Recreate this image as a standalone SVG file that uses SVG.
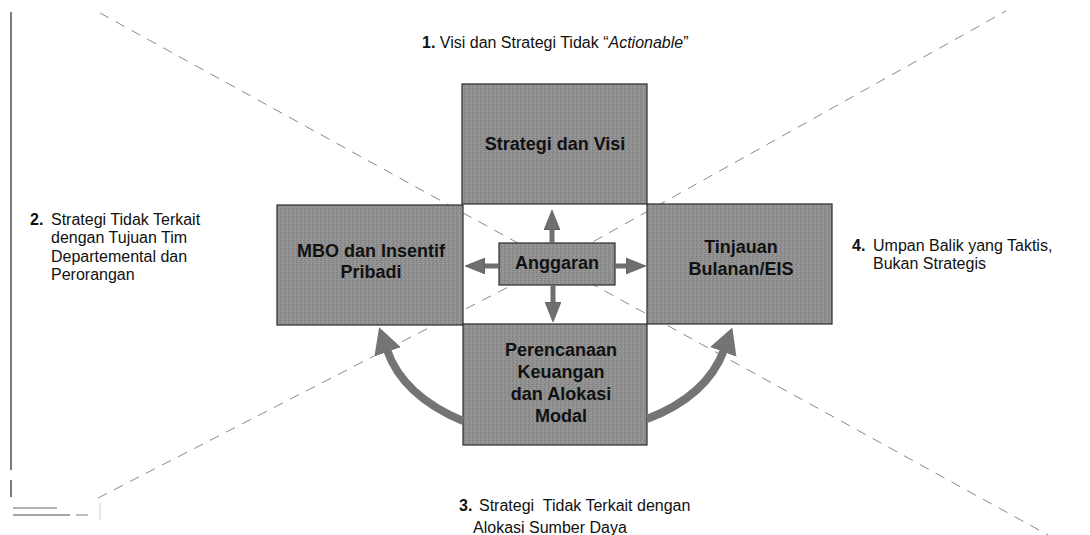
<svg xmlns="http://www.w3.org/2000/svg" width="1090" height="535" viewBox="0 0 1090 535">
  <defs>
    <pattern id="tex" width="4" height="4" patternUnits="userSpaceOnUse">
      <rect width="4" height="4" fill="#8f8f8f"/>
      <rect x="0" y="0" width="1" height="1" fill="#7c7c7c"/>
      <rect x="2" y="1" width="1" height="1" fill="#a2a2a2"/>
      <rect x="1" y="2" width="1" height="1" fill="#7e7e7e"/>
      <rect x="3" y="3" width="1" height="1" fill="#a0a0a0"/>
    </pattern>
    <marker id="headS" markerUnits="userSpaceOnUse" markerWidth="20" markerHeight="16" refX="1" refY="8" orient="auto">
      <path d="M0,0 L20,8 L0,16 Z" fill="#6f6f6f" stroke="#4a4a4a" stroke-width="0.6"/>
    </marker>
    <marker id="headC" markerUnits="userSpaceOnUse" markerWidth="26" markerHeight="28" refX="2" refY="14" orient="auto">
      <path d="M0,0 L26,14 L0,28 Z" fill="#747474"/>
    </marker>
  </defs>
  <style>
    .box { fill: url(#tex); stroke: #2b2b2b; stroke-width: 1.2; }
    .guide { fill: none; stroke: #8a8a8a; stroke-width: 1; stroke-dasharray: 10 8; }
    .arr { fill: none; stroke: #6f6f6f; stroke-width: 5; marker-end: url(#headS); }
    .carr { fill: none; stroke: #747474; stroke-width: 8; marker-end: url(#headC); }
    .bl { font-family: "Liberation Sans", Arial, sans-serif; font-size: 18px; font-weight: bold; fill: #111; text-anchor: middle; }
    .lb { font-family: "Liberation Sans", Arial, sans-serif; font-size: 16px; fill: #111; }
    .num { font-weight: bold; }
  </style>
  <rect width="1090" height="535" fill="#ffffff"/>

  <!-- scan edge -->
  <g id="edge" stroke="#333" stroke-width="1.3">
    <line x1="11" y1="12" x2="11" y2="470"/>
    <line x1="11" y1="480" x2="11" y2="497"/>
    <line x1="13" y1="508" x2="57" y2="508" stroke="#999" stroke-width="1.5"/>
    <line x1="13" y1="515" x2="70" y2="515" stroke="#888" stroke-width="1.5"/>
    <line x1="76" y1="515" x2="88" y2="515" stroke="#aaa" stroke-width="1.5"/>
    <line x1="100" y1="503" x2="100" y2="520" stroke="#ccc" stroke-width="1"/>
  </g>

  <!-- dashed guide lines -->
  <g id="guides">
    <line class="guide" x1="100" y1="13" x2="1048" y2="535"/>
    <polyline class="guide" points="98,498 555,263 1006,11"/>
  </g>

  <!-- nodes -->
  <g id="node-strategi">
    <rect class="box" x="462" y="84" width="185" height="120"/>
    <text class="bl" x="555" y="150">Strategi dan Visi</text>
  </g>
  <g id="node-mbo">
    <rect class="box" x="277" y="205" width="186" height="120"/>
    <text class="bl" x="371" y="257">MBO dan Insentif</text>
    <text class="bl" x="371" y="278">Pribadi</text>
  </g>
  <g id="node-tinjauan">
    <rect class="box" x="647" y="204" width="185" height="120"/>
    <text class="bl" x="741" y="253">Tinjauan</text>
    <text class="bl" x="741" y="275">Bulanan/EIS</text>
  </g>
  <g id="node-perencanaan">
    <rect class="box" x="463" y="324" width="184" height="121"/>
    <text class="bl" x="561" y="356">Perencanaan</text>
    <text class="bl" x="561" y="378">Keuangan</text>
    <text class="bl" x="561" y="400">dan Alokasi</text>
    <text class="bl" x="561" y="422">Modal</text>
  </g>
  <g id="node-anggaran">
    <rect class="box" x="499" y="243" width="116" height="42"/>
    <text class="bl" x="557" y="269">Anggaran</text>
  </g>

  <!-- connectors -->
  <g id="connectors">
    <line class="arr" x1="552" y1="243" x2="552" y2="229"/>
    <line class="arr" x1="553" y1="285" x2="553" y2="303"/>
    <line class="arr" x1="499" y1="266" x2="484" y2="266"/>
    <line class="arr" x1="615" y1="266" x2="627" y2="266"/>
    <path class="carr" d="M 463 421 Q 403 396 387 350"/>
    <path class="carr" d="M 647 419 Q 707 396 724 350"/>
  </g>

  <!-- labels -->
  <g id="label-1">
    <text class="lb" x="422" y="48"><tspan class="num">1.</tspan> Visi dan Strategi Tidak “<tspan font-style="italic">Actionable</tspan>”</text>
  </g>
  <g id="label-2">
    <text class="lb num" x="30" y="225">2.</text>
    <text class="lb" x="51" y="225">Strategi Tidak Terkait</text>
    <text class="lb" x="51" y="243">dengan Tujuan Tim</text>
    <text class="lb" x="51" y="262">Departemental dan</text>
    <text class="lb" x="51" y="280">Perorangan</text>
  </g>
  <g id="label-3">
    <text class="lb num" x="459" y="511">3.</text>
    <text class="lb" x="479" y="511" style="white-space:pre">Strategi  Tidak Terkait dengan</text>
    <text class="lb" x="473" y="533">Alokasi Sumber Daya</text>
  </g>
  <g id="label-4">
    <text class="lb num" x="852" y="251">4.</text>
    <text class="lb" x="873" y="251">Umpan Balik yang Taktis,</text>
    <text class="lb" x="873" y="269">Bukan Strategis</text>
  </g>
</svg>
